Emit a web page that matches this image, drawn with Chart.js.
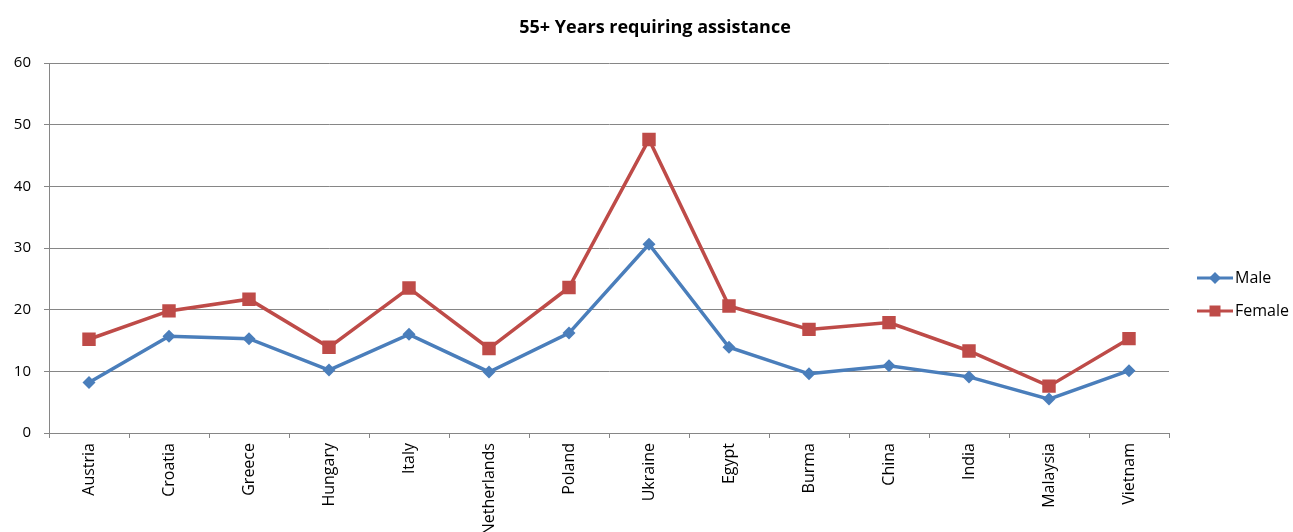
<!DOCTYPE html>
<html>
<head>
<meta charset="utf-8">
<script src="https://cdn.jsdelivr.net/npm/chart.js@4/dist/chart.umd.min.js"></script>
<style>
  html, body { margin: 0; padding: 0; background: #ffffff; }
  #wrap { width: 1293px; height: 532px; position: relative; }
</style>
</head>
<body>
<div id="wrap"><canvas id="c" width="1293" height="532"></canvas></div>
<script>
// Countries along the category axis
const countries = ['Austria', 'Croatia', 'Greece', 'Hungary', 'Italy', 'Netherlands', 'Poland',
                   'Ukraine', 'Egypt', 'Burma', 'China', 'India', 'Malaysia', 'Vietnam'];
// Share of people aged 55+ requiring assistance
const maleValues   = [8.2, 15.7, 15.3, 10.2, 16.0, 9.9, 16.2, 30.6, 13.9, 9.6, 10.9, 9.1, 5.5, 10.1];
const femaleValues = [15.2, 19.8, 21.7, 13.9, 23.5, 13.7, 23.6, 47.6, 20.6, 16.8, 17.9, 13.3, 7.6, 15.3];
const yTicks = [0, 10, 20, 30, 40, 50, 60];
const chartTitle = '55+ Years requiring assistance';

const FONT = '"Open Sans", "Liberation Sans", sans-serif';
const BLUE = '#4a7ebb';
const RED = '#be4b48';

// Title centred over the whole figure
const figureTitle = {
  id: 'figureTitle',
  afterDraw(chart) {
    const ctx = chart.ctx;
    ctx.save();
    ctx.fillStyle = '#000000';
    ctx.font = 'bold 18px ' + FONT;
    ctx.textAlign = 'center';
    ctx.textBaseline = 'middle';
    ctx.fillText(chartTitle, 655, 28);
    ctx.restore();
  }
};

// Right-hand legend: a short line with the series marker, then the name
const sideLegend = {
  id: 'sideLegend',
  afterDraw(chart) {
    const ctx = chart.ctx;
    const x0 = 1197, x1 = 1233, ys = [278, 311];
    chart.data.datasets.forEach((ds, i) => {
      const y = ys[i];
      const cx = (x0 + x1) / 2;
      ctx.save();
      ctx.strokeStyle = ds.borderColor;
      ctx.lineWidth = 3;
      ctx.beginPath();
      ctx.moveTo(x0, y);
      ctx.lineTo(x1, y);
      ctx.stroke();
      ctx.fillStyle = ds.backgroundColor;
      ctx.beginPath();
      if (ds.pointStyle === 'rectRot') {
        const r = 6;
        ctx.moveTo(cx, y - r); ctx.lineTo(cx + r, y); ctx.lineTo(cx, y + r); ctx.lineTo(cx - r, y);
      } else {
        const r = 5.5;
        ctx.rect(cx - r, y - r, 2 * r, 2 * r);
      }
      ctx.closePath();
      ctx.fill();
      ctx.fillStyle = '#000000';
      ctx.font = '16px ' + FONT;
      ctx.textAlign = 'left';
      ctx.textBaseline = 'middle';
      ctx.fillText(ds.label, x1 + 2, y);
      ctx.restore();
    });
  }
};

new Chart(document.getElementById('c'), {
  type: 'line',
  data: {
    labels: countries,
    datasets: [
      {
        label: 'Male',
        data: maleValues,
        borderColor: BLUE,
        backgroundColor: BLUE,
        borderWidth: 3.5,
        pointStyle: 'rectRot',
        pointRadius: 6.5,
        pointHoverRadius: 6.5,
        pointBorderWidth: 0,
        tension: 0
      },
      {
        label: 'Female',
        data: femaleValues,
        borderColor: RED,
        backgroundColor: RED,
        borderWidth: 3.5,
        pointStyle: 'rect',
        pointRadius: 9.5,
        pointHoverRadius: 9.5,
        pointBorderWidth: 0,
        tension: 0
      }
    ]
  },
  options: {
    responsive: false,
    animation: false,
    events: [],
    layout: { padding: { left: 0, right: 124, top: 63, bottom: 0 } },
    plugins: {
      legend: { display: false },
      tooltip: { enabled: false },
      title: { display: false }
    },
    scales: {
      x: {
        offset: true,
        grid: {
          offset: true,
          drawOnChartArea: false,
          drawTicks: true,
          tickLength: 5,
          tickColor: '#868686'
        },
        border: { color: '#868686', width: 1 },
        ticks: {
          color: '#000000',
          font: { family: FONT, size: 16 },
          minRotation: 90,
          maxRotation: 90,
          autoSkip: false,
          padding: 5
        },
        afterFit(scale) { scale.height = 99; }
      },
      y: {
        min: 0,
        max: 60,
        afterBuildTicks(scale) { scale.ticks = yTicks.map(v => ({ value: v })); },
        grid: {
          color: '#868686',
          lineWidth: 1,
          drawTicks: true,
          tickLength: 5,
          tickColor: '#868686'
        },
        border: { color: '#868686', width: 1 },
        ticks: {
          color: '#000000',
          font: { family: FONT, size: 15 },
          padding: 13
        },
        afterFit(scale) { scale.width = 49; }
      }
    }
  },
  plugins: [figureTitle, sideLegend]
});
</script>
</body>
</html>
